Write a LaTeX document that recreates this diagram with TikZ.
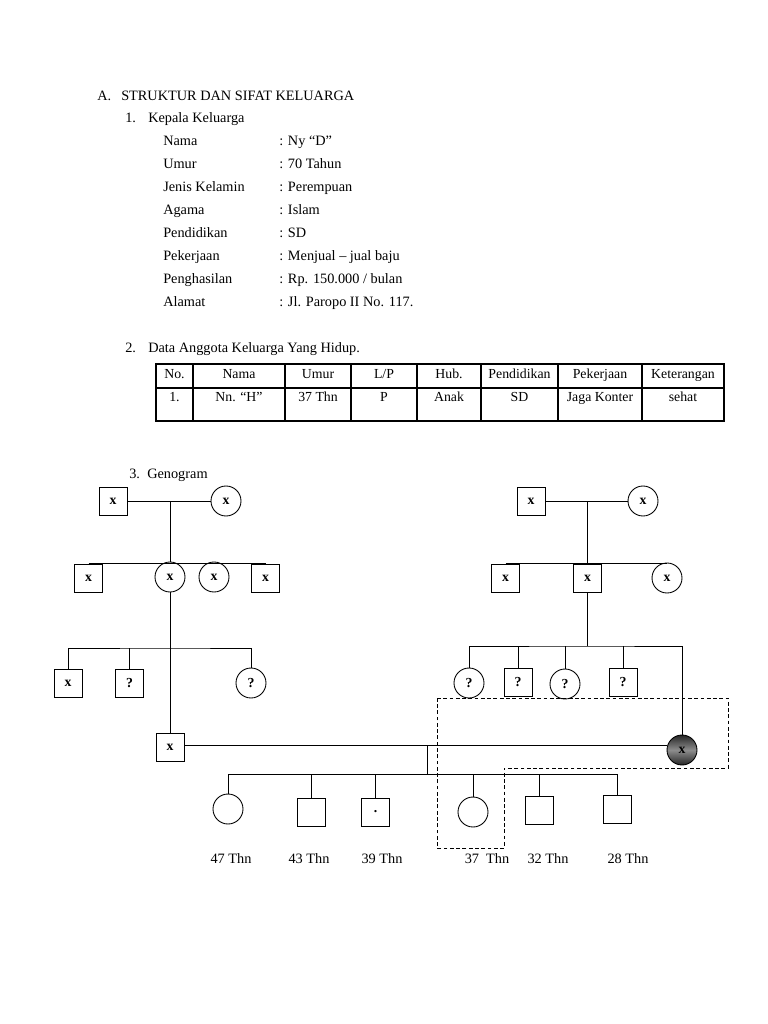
\documentclass[tikz,border=0pt]{standalone}
\usepackage{fontspec}
\setmainfont{Liberation Serif}
\usetikzlibrary{positioning,calc}
\tikzset{
  body/.style={font=\fontsize{11.4}{14}\selectfont,anchor=base west,inner sep=0pt},
  cell/.style={font=\fontsize{11}{13}\selectfont,anchor=base,inner sep=0pt},
  grid/.style={line width=0.9pt},
  male/.style={draw,line width=0.7pt,minimum size=28*0.796875pt,inner sep=0pt,
    font=\fontsize{11}{13}\selectfont\bfseries},
  female/.style={circle,draw,line width=0.7pt,minimum size=30*0.796875pt,inner sep=0pt,
    font=\fontsize{11}{13}\selectfont\bfseries},
  index/.style={female,top color=black!85,bottom color=black!85,middle color=black!45},
  link/.style={line width=0.7pt},
  age/.style={font=\fontsize{11.4}{14}\selectfont,anchor=base,inner sep=0pt},
  focus/.style={line width=0.7pt,dash pattern=on 3pt off 2pt},
}

\begin{document}
\begin{tikzpicture}[x=0.796875pt,y=-0.796875pt]
\useasboundingbox (0,0) rectangle (768,1024);

% ---------- heading ----------
\node[body] (hA) at (97,100) {A.};
\node[body] (hTitle) at (121,100) {STRUKTUR DAN SIFAT KELUARGA};
\node[body] (h1) at (125,122) {1.};
\node[body] (h1t) at (148,122) {Kepala Keluarga};

% ---------- kepala keluarga ----------
\node[body] (lNama) at (163,145) {Nama};          \node[body] (vNama) at (279,145) {: Ny “D”};
\node[body] (lUmur) at (163,168) {Umur};          \node[body] (vUmur) at (279,168) {: 70 Tahun};
\node[body] (lJenis) at (163,191) {Jenis Kelamin}; \node[body] (vJenis) at (279,191) {: Perempuan};
\node[body] (lAgama) at (163,214) {Agama};        \node[body] (vAgama) at (279,214) {: Islam};
\node[body] (lPend) at (163,237) {Pendidikan};    \node[body] (vPend) at (279,237) {: SD};
\node[body] (lKerja) at (163,260) {Pekerjaan};    \node[body] (vKerja) at (279,260) {: Menjual -- jual baju};
\node[body] (lHasil) at (163,283) {Penghasilan};  \node[body] (vHasil) at (279,283) {: Rp. 150.000 / bulan};
\node[body] (lAlamat) at (163,306) {Alamat};      \node[body] (vAlamat) at (279,306) {: Jl. Paropo II No. 117.};

% ---------- tabel anggota ----------
\node[body] (h2) at (125,352) {2.};
\node[body] (h2t) at (148,352) {Data Anggota Keluarga Yang Hidup.};
\draw[grid] (156,364) rectangle (724,421);
\draw[grid] (156,388) -- (724,388);
\draw[grid] (193,364) -- (193,421);
\draw[grid] (285,364) -- (285,421);
\draw[grid] (351,364) -- (351,421);
\draw[grid] (417,364) -- (417,421);
\draw[grid] (481,364) -- (481,421);
\draw[grid] (558,364) -- (558,421);
\draw[grid] (642,364) -- (642,421);
\node[cell] (tNo) at (174.5,378) {No.};
\node[cell] (tNama) at (239,378) {Nama};
\node[cell] (tUmur) at (318,378) {Umur};
\node[cell] (tLP) at (384,378) {L/P};
\node[cell] (tHub) at (449,378) {Hub.};
\node[cell] (tPend) at (519.5,378) {Pendidikan};
\node[cell] (tKerja) at (600,378) {Pekerjaan};
\node[cell] (tKet) at (683,378) {Keterangan};
\node[cell] (dNo) at (174.5,401) {1.};
\node[cell] (dNama) at (239,401) {Nn. “H”};
\node[cell] (dUmur) at (318,401) {37 Thn};
\node[cell] (dLP) at (384,401) {P};
\node[cell] (dHub) at (449,401) {Anak};
\node[cell] (dPend) at (519.5,401) {SD};
\node[cell] (dKerja) at (600,401) {Jaga Konter};
\node[cell] (dKet) at (683,401) {sehat};

% ---------- genogram ----------
\node[body] (h3) at (129,478) {3.};
\node[body] (h3t) at (147,478) {Genogram};

% left side (husband's family)
\node[male] (gf1) at (113,501) {x};
\node[female] (gm1) at (226,501) {x};
\coordinate (m1) at (170,501);
\draw[link] (gf1.east) -- (gm1.west);
\node[male] (a1) at (88.5,578) {x};
\node[female] (a2) at (170,577) {x};
\node[female] (a3) at (214,577) {x};
\node[male] (a4) at (265.5,578) {x};
\draw[link] (a1.north) -- (a4.north);
\draw[link] (m1) -- (a2.north);
\node[male] (b1) at (68,683.5) {x};
\node[male] (b2) at (129.5,683) {?};
\node[female] (b3) at (251,683) {?};
\coordinate (k1) at (170,648);
\draw[link] (b1.north) |- (k1) -| (b3.north);
\draw[link] (b2.north) -- (b2.north |- k1);

% right side (wife's family)
\node[male] (gf2) at (531,501) {x};
\node[female] (gm2) at (643,501) {x};
\coordinate (m2) at (587.5,501);
\draw[link] (gf2.east) -- (gm2.west);
\node[male] (d1) at (505.5,578) {x};
\node[male] (d2) at (587.5,578) {x};
\node[female] (d3) at (667,578) {x};
\draw[link] (d1.north) -- (d3.north |- d1.north);
\draw[link] (m2) -- (d2.north);
\node[female] (e1) at (469,683) {?};
\node[male] (e2) at (518,682) {?};
\node[female] (e3) at (565,684) {?};
\node[male] (e4) at (623,682) {?};
\coordinate (k2) at (587.5,646);
\draw[link] (d2.south) -- (k2);

% the couple
\node[male] (hb) at (170,747) {x};
\node[index] (wf) at (682,750) {x};
\draw[link] (a2.south) -- (hb.north);
\draw[link] (e1.north) |- (k2) -| (wf.north);
\draw[link] (e2.north) -- (e2.north |- k2);
\draw[link] (e3.north) -- (e3.north |- k2);
\draw[link] (e4.north) -- (e4.north |- k2);
\coordinate (m3) at (427,745);
\draw[link] (hb.east |- m3) -- (wf.west |- m3);

% children
\node[female] (f1) at (228,809) {};
\node[male] (f2) at (311.5,812) {};
\node[male] (f3) at (375.5,812) {.};
\node[female] (f4) at (473,812) {};
\node[male] (f5) at (539.5,810.5) {};
\node[male] (f6) at (617.5,809.5) {};
\coordinate (k3) at (427,774);
\draw[link] (m3) -- (k3);
\draw[link] (f1.north) |- (k3) -| (f6.north);
\draw[link] (f2.north) -- (f2.north |- k3);
\draw[link] (f3.north) -- (f3.north |- k3);
\draw[link] (f4.north) -- (f4.north |- k3);
\draw[link] (f5.north) -- (f5.north |- k3);

% ages
\node[age] (y1) at (231,863) {47 Thn};
\node[age] (y2) at (309,863) {43 Thn};
\node[age] (y3) at (382,863) {39 Thn};
\node[age] (y4) at (487,863) {37\ \ Thn};
\node[age] (y5) at (548,863) {32 Thn};
\node[age] (y6) at (628,863) {28 Thn};

% household boundary
\draw[focus] (437,698) -- (728,698) -- (728,768) -- (504,768) -- (504,848) -- (437,848) -- cycle;

\end{tikzpicture}
\end{document}
